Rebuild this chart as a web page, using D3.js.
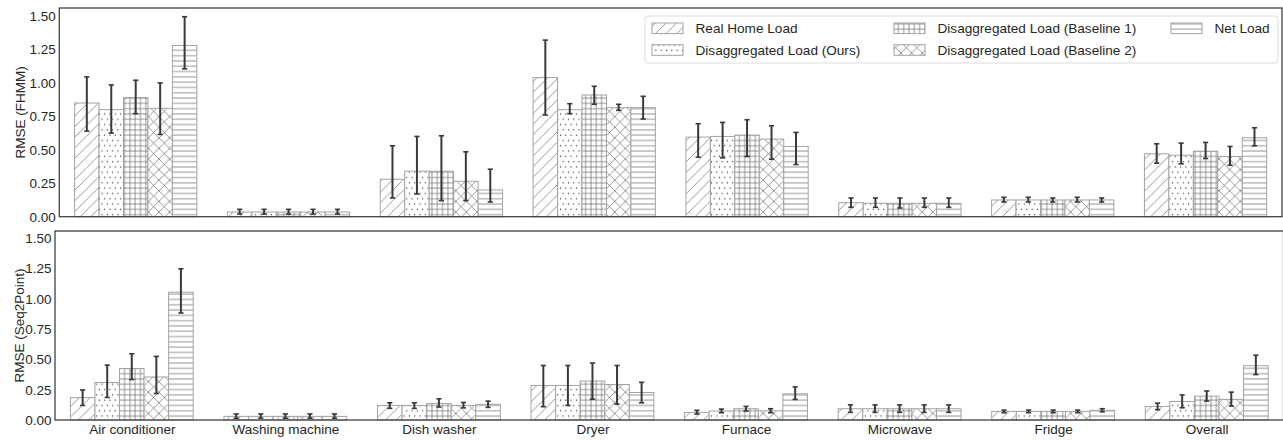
<!DOCTYPE html>
<html><head><meta charset="utf-8">
<script src="https://cdn.jsdelivr.net/npm/d3@7"></script>
<style>body{margin:0;background:#fff;}svg{display:block;font-family:"Liberation Sans",Arial,sans-serif;}</style>
</head><body>
<svg id="chart" width="1283" height="440"></svg>
<script>
const categories = ["Air conditioner","Washing machine","Dish washer","Dryer","Furnace","Microwave","Fridge","Overall"];
const seriesNames = ["Real Home Load","Disaggregated Load (Ours)","Disaggregated Load (Baseline 1)","Disaggregated Load (Baseline 2)","Net Load"];
const yTicks = [0,0.25,0.5,0.75,1.0,1.25,1.5];

// FHMM RMSE
const fhmmReal = [0.85,0.035,0.28,1.04,0.595,0.105,0.125,0.47];
const fhmmOurs = [0.80,0.035,0.34,0.80,0.60,0.10,0.125,0.46];
const fhmmB1   = [0.89,0.035,0.34,0.91,0.61,0.10,0.125,0.49];
const fhmmB2   = [0.81,0.035,0.265,0.815,0.58,0.10,0.125,0.45];
const fhmmNet  = [1.28,0.035,0.20,0.815,0.525,0.10,0.125,0.59];
// FHMM error bar lower / upper ends
const fhmmRealLo = [0.64,0.02,0.14,0.76,0.445,0.07,0.11,0.40];
const fhmmRealHi = [1.045,0.055,0.53,1.32,0.695,0.14,0.145,0.545];
const fhmmOursLo = [0.625,0.02,0.17,0.77,0.44,0.07,0.11,0.395];
const fhmmOursHi = [0.985,0.055,0.60,0.845,0.705,0.14,0.145,0.55];
const fhmmB1Lo   = [0.77,0.02,0.12,0.84,0.45,0.065,0.11,0.435];
const fhmmB1Hi   = [1.02,0.055,0.605,0.975,0.725,0.14,0.14,0.555];
const fhmmB2Lo   = [0.615,0.02,0.12,0.795,0.43,0.07,0.11,0.385];
const fhmmB2Hi   = [1.0,0.055,0.485,0.84,0.68,0.14,0.145,0.525];
const fhmmNetLo  = [1.105,0.02,0.11,0.73,0.39,0.07,0.11,0.53];
const fhmmNetHi  = [1.495,0.055,0.355,0.90,0.63,0.14,0.14,0.665];

// Seq2Point RMSE
const s2pReal = [0.185,0.03,0.12,0.285,0.063,0.093,0.071,0.112];
const s2pOurs = [0.31,0.03,0.12,0.285,0.074,0.093,0.071,0.153];
const s2pB1   = [0.425,0.03,0.137,0.322,0.093,0.093,0.071,0.197];
const s2pB2   = [0.355,0.03,0.12,0.293,0.076,0.093,0.071,0.17];
const s2pNet  = [1.055,0.03,0.129,0.227,0.216,0.093,0.08,0.448];
const s2pRealLo = [0.12,0.015,0.096,0.11,0.049,0.063,0.06,0.085];
const s2pRealHi = [0.248,0.05,0.142,0.45,0.08,0.125,0.082,0.139];
const s2pOursLo = [0.186,0.015,0.096,0.12,0.06,0.063,0.06,0.101];
const s2pOursHi = [0.453,0.05,0.142,0.45,0.09,0.125,0.082,0.207];
const s2pB1Lo   = [0.334,0.015,0.107,0.172,0.074,0.063,0.06,0.156];
const s2pB1Hi   = [0.547,0.05,0.175,0.47,0.112,0.125,0.082,0.24];
const s2pB2Lo   = [0.219,0.015,0.10,0.131,0.06,0.063,0.06,0.115];
const s2pB2Hi   = [0.525,0.05,0.145,0.45,0.093,0.125,0.082,0.23];
const s2pNetLo  = [0.883,0.015,0.104,0.142,0.17,0.063,0.068,0.375];
const s2pNetHi  = [1.248,0.05,0.156,0.311,0.273,0.125,0.093,0.535];

const svg = d3.select("#chart");
const defs = svg.append("defs");
const S = 5.3;          // hatch spacing
const HATCH = "#6a6a6a";
const EDGE = "#a3a3a3";
const TEXT = "#262626";

// patterns
function pat(id, w, h){
  return defs.append("pattern").attr("id", id).attr("patternUnits","userSpaceOnUse")
    .attr("width", w).attr("height", h);
}
{ // diagonal '//'
  const d = 2*S;
  const p = pat("hDiag", d, d);
  p.append("rect").attr("width",d).attr("height",d).attr("fill","#fff");
  p.append("path").attr("d",`M0,${d} L${d},0 M${-d/2},${d/2} L${d/2},${-d/2} M${d/2},${d*1.5} L${d*1.5},${d/2}`)
    .attr("stroke",HATCH).attr("stroke-width",0.7).attr("fill","none");
}
{ // dots '..'
  const p = pat("hDots", S, 2*S);
  p.append("rect").attr("width",S).attr("height",2*S).attr("fill","#fff");
  p.append("circle").attr("cx",S*0.25).attr("cy",S*0.5).attr("r",0.65).attr("fill","#333");
  p.append("circle").attr("cx",S*0.75).attr("cy",S*1.5).attr("r",0.65).attr("fill","#333");
}
{ // grid '++'
  const p = pat("hGrid", S, S);
  p.append("rect").attr("width",S).attr("height",S).attr("fill","#fff");
  p.append("path").attr("d",`M0,${S/2} L${S},${S/2} M${S/2},0 L${S/2},${S}`)
    .attr("stroke",HATCH).attr("stroke-width",0.7).attr("fill","none");
}
{ // cross 'xx'
  const d = 2*S;
  const p = pat("hCross", d, d);
  p.append("rect").attr("width",d).attr("height",d).attr("fill","#fff");
  p.append("path").attr("d",`M0,${d} L${d},0 M0,0 L${d},${d} M${-d/2},${d/2} L${d/2},${-d/2} M${d/2},${d*1.5} L${d*1.5},${d/2} M${-d/2},${d/2} L${d/2},${d*1.5} M${d/2},${-d/2} L${d*1.5},${d/2}`)
    .attr("stroke",HATCH).attr("stroke-width",0.7).attr("fill","none");
}
{ // horizontal '--'
  const p = pat("hHoriz", S, S);
  p.append("rect").attr("width",S).attr("height",S).attr("fill","#fff");
  p.append("path").attr("d",`M0,${S/2} L${S},${S/2}`)
    .attr("stroke",HATCH).attr("stroke-width",0.7).attr("fill","none");
}
const fills = ["url(#hDiag)","url(#hDots)","url(#hGrid)","url(#hCross)","url(#hHoriz)"];

const panels = [
  {label:"RMSE (FHMM)", left:59.3, right:1282, top:8, bottom:216.7, showX:false,
   vals:[fhmmReal,fhmmOurs,fhmmB1,fhmmB2,fhmmNet],
   lo:[fhmmRealLo,fhmmOursLo,fhmmB1Lo,fhmmB2Lo,fhmmNetLo],
   hi:[fhmmRealHi,fhmmOursHi,fhmmB1Hi,fhmmB2Hi,fhmmNetHi]},
  {label:"RMSE (Seq2Point)", left:55, right:1283.5, top:231, bottom:420, showX:true,
   vals:[s2pReal,s2pOurs,s2pB1,s2pB2,s2pNet],
   lo:[s2pRealLo,s2pOursLo,s2pB1Lo,s2pB2Lo,s2pNetLo],
   hi:[s2pRealHi,s2pOursHi,s2pB1Hi,s2pB2Hi,s2pNetHi]}
];
const barW = 0.16;
const FONT = 13.5;

panels.forEach(P => {
  const x = d3.scaleLinear().domain([-0.5, categories.length-0.5]).range([P.left, P.right]);
  const y = d3.scaleLinear().domain([0, 1.56]).range([P.bottom, P.top]);
  const g = svg.append("g");

  // bars
  P.vals.forEach((arr, j) => {
    const off = (j-2)*barW;
    g.append("g").selectAll("rect").data(arr).join("rect")
      .attr("x", (d,i) => x(i+off-barW/2))
      .attr("width", x(barW) - x(0))
      .attr("y", d => y(d))
      .attr("height", d => y(0) - y(d))
      .attr("fill", fills[j])
      .attr("stroke", EDGE).attr("stroke-width", 1);
  });
  // error bars
  P.vals.forEach((arr, j) => {
    const off = (j-2)*barW;
    const eg = g.append("g");
    arr.forEach((d,i) => {
      const cx = x(i+off);
      const y1 = y(P.lo[j][i]), y2 = y(P.hi[j][i]);
      eg.append("line").attr("x1",cx).attr("x2",cx).attr("y1",y1).attr("y2",y2)
        .attr("stroke","#3a3a3a").attr("stroke-width",2);
      [y1,y2].forEach(yy => eg.append("line").attr("x1",cx-2.6).attr("x2",cx+2.6).attr("y1",yy).attr("y2",yy)
        .attr("stroke","#3a3a3a").attr("stroke-width",1.6));
    });
  });

  // y axis
  const ya = d3.axisLeft(y).tickValues(yTicks).tickFormat(d3.format(".2f")).tickSize(0).tickPadding(3.5);
  const yg = g.append("g").attr("transform",`translate(${P.left},0)`).call(ya);
  yg.select(".domain").remove();
  yg.selectAll("text").attr("fill",TEXT).style("font-size",FONT+"px").style("font-family",'"Liberation Sans",Arial,sans-serif');

  if (P.showX) {
    const xa = d3.axisBottom(x).tickValues(d3.range(categories.length)).tickFormat(i => categories[i]).tickSize(0).tickPadding(4);
    const xg = g.append("g").attr("transform",`translate(0,${P.bottom})`).call(xa);
    xg.select(".domain").remove();
    xg.selectAll("text").attr("fill",TEXT).style("font-size",FONT+"px").style("font-family",'"Liberation Sans",Arial,sans-serif');
  }

  // frame
  g.append("rect").attr("x",P.left).attr("y",P.top).attr("width",P.right-P.left).attr("height",P.bottom-P.top)
    .attr("fill","none").attr("stroke","#3a3a3a").attr("stroke-width",1.25);

  // y label
  g.append("text").attr("transform",`translate(${P.left===55?19:20.5},${(P.top+P.bottom)/2}) rotate(-90)`)
    .attr("text-anchor","middle").attr("dominant-baseline","central")
    .attr("fill",TEXT).style("font-size",FONT+"px").text(P.label);
});

// legend (top panel)
const lg = svg.append("g");
lg.append("rect").attr("x",645).attr("y",16).attr("width",633).attr("height",47).attr("rx",3)
  .attr("fill","#fff").attr("fill-opacity",0.8).attr("stroke","#dcdcdc").attr("stroke-width",1);
const legendPos = [[652,28.3],[652,50],[894,28.3],[894,50],[1171,28.3]];
seriesNames.forEach((name,j) => {
  const [lx,ly] = legendPos[j];
  lg.append("rect").attr("x",lx).attr("y",ly-5.3).attr("width",31).attr("height",10.6)
    .attr("fill",fills[j]).attr("stroke",EDGE).attr("stroke-width",1);
  lg.append("text").attr("x",lx+43.5).attr("y",ly).attr("dominant-baseline","central")
    .attr("fill",TEXT).style("font-size","13.6px").text(name);
});
</script>
</body></html>
